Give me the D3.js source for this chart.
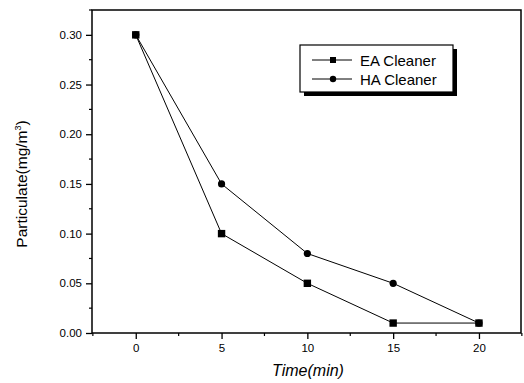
<!DOCTYPE html>
<html>
<head>
<meta charset="utf-8">
<script src="https://cdn.jsdelivr.net/npm/d3@7"></script>
<style>
  body { margin: 0; background: #fff; }
  svg { font-family: Arial, "Liberation Sans", sans-serif; }
</style>
</head>
<body>
<div id="chart"></div>
<script>
// data
var times = [0, 5, 10, 15, 20];
var eaValues = [0.30, 0.10, 0.05, 0.01, 0.01];
var haValues = [0.30, 0.15, 0.08, 0.05, 0.01];
var xTicks = [0, 5, 10, 15, 20];
var yTicks = [0.00, 0.05, 0.10, 0.15, 0.20, 0.25, 0.30];
var seriesNames = ["EA Cleaner", "HA Cleaner"];

var width = 524, height = 383;
// plot box edges (window.top is read-only, so no plain "top")
var plotL = 92, plotR = 521, plotT = 10, plotB = 333;

var svg = d3.select("#chart").append("svg")
    .attr("width", width)
    .attr("height", height);

var x = d3.scaleLinear().domain([-2.55, 22.45]).range([plotL, plotR]);
var y = d3.scaleLinear().domain([0, 0.325]).range([plotB, plotT]);

// frame
svg.append("rect")
    .attr("x", plotL).attr("y", plotT)
    .attr("width", plotR - plotL).attr("height", plotB - plotT)
    .attr("fill", "none").attr("stroke", "#000").attr("stroke-width", 1.5);

// x axis
var xAxis = d3.axisBottom(x).tickValues(xTicks).tickSize(6).tickPadding(5)
    .tickFormat(d3.format("d"));
var gx = svg.append("g").attr("transform", "translate(0," + plotB + ")").call(xAxis);
gx.select(".domain").remove();
gx.selectAll("text").attr("font-size", 11.5).attr("font-family", "Arial, sans-serif");
gx.selectAll("line").attr("stroke-width", 1.3);
// minor x ticks
var xMinor = d3.range(-2.5, 22.6, 2.5).filter(function(v) { return xTicks.indexOf(v) < 0; });
gx.selectAll(".minor").data(xMinor).enter().append("line")
    .attr("x1", function(d) { return x(d); }).attr("x2", function(d) { return x(d); })
    .attr("y1", 0).attr("y2", 3).attr("stroke", "#000").attr("stroke-width", 1.2);

// y axis
var yAxis = d3.axisLeft(y).tickValues(yTicks).tickSize(6).tickPadding(4)
    .tickFormat(d3.format(".2f"));
var gy = svg.append("g").attr("transform", "translate(" + plotL + ",0)").call(yAxis);
gy.select(".domain").remove();
gy.selectAll("text").attr("font-size", 11.5).attr("font-family", "Arial, sans-serif");
gy.selectAll("line").attr("stroke-width", 1.3);
var yMinor = d3.range(0.025, 0.33, 0.05);
gy.selectAll(".minor").data(yMinor).enter().append("line")
    .attr("y1", function(d) { return y(d); }).attr("y2", function(d) { return y(d); })
    .attr("x1", 0).attr("x2", -3).attr("stroke", "#000").attr("stroke-width", 1.2);

// axis titles
svg.append("text")
    .attr("x", 308).attr("y", 376)
    .attr("text-anchor", "middle")
    .attr("font-size", 16).attr("font-style", "italic")
    .text("Time(min)");

var yTitle = svg.append("text")
    .attr("transform", "translate(27,184)rotate(-90)")
    .attr("text-anchor", "middle")
    .attr("font-size", 15.5);
yTitle.append("tspan").text("Particulate(mg/m");
yTitle.append("tspan").attr("font-size", 9).attr("dy", -6).text("3");
yTitle.append("tspan").attr("dy", 6).text(")");

// lines
var line = d3.line()
    .x(function(d, i) { return x(times[i]); })
    .y(function(d) { return y(d); });

[eaValues, haValues].forEach(function(vals) {
    svg.append("path").datum(vals)
        .attr("d", line)
        .attr("fill", "none").attr("stroke", "#000").attr("stroke-width", 1);
});

// markers
svg.selectAll(".ha").data(haValues).enter().append("circle")
    .attr("cx", function(d, i) { return x(times[i]); })
    .attr("cy", function(d) { return y(d); })
    .attr("r", 3.6).attr("fill", "#000");

svg.selectAll(".ea").data(eaValues).enter().append("rect")
    .attr("x", function(d, i) { return x(times[i]) - 3.7; })
    .attr("y", function(d) { return y(d) - 3.7; })
    .attr("width", 7.4).attr("height", 7.4).attr("fill", "#000");

// legend
var lg = svg.append("g").attr("transform", "translate(300,45)");
lg.append("rect").attr("x", 4).attr("y", 4).attr("width", 153).attr("height", 47).attr("fill", "#000");
lg.append("rect").attr("x", 0).attr("y", 0).attr("width", 153).attr("height", 47)
    .attr("fill", "#fff").attr("stroke", "#000").attr("stroke-width", 1.2);

seriesNames.forEach(function(name, i) {
    var yy = 15 + i * 19;
    lg.append("line").attr("x1", 12).attr("x2", 52).attr("y1", yy).attr("y2", yy)
        .attr("stroke", "#000").attr("stroke-width", 1);
    if (i === 0) {
        lg.append("rect").attr("x", 30).attr("y", yy - 3).attr("width", 6).attr("height", 6).attr("fill", "#000");
    } else {
        lg.append("circle").attr("cx", 33).attr("cy", yy).attr("r", 3.2).attr("fill", "#000");
    }
    lg.append("text").attr("x", 60).attr("y", yy + 5.5)
        .attr("font-size", 15).text(name);
});
</script>
</body>
</html>
